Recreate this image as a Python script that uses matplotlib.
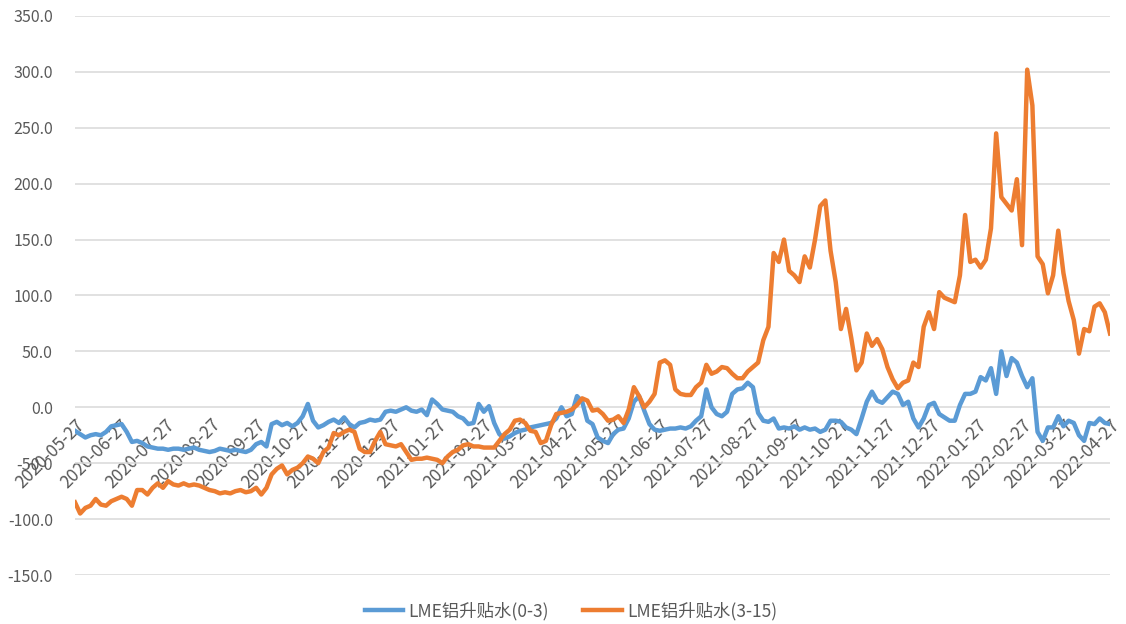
# -*- coding: utf-8 -*-
"""
LME铝升贴水 (0-3) 与 (3-15) 走势图
"""

import numpy as np
import pandas as pd
import matplotlib
matplotlib.use('Agg')
import matplotlib.pyplot as plt
import matplotlib.dates as mdates
from matplotlib.ticker import MultipleLocator, FormatStrFormatter

start_date = '2020-05-27'
end_date = '2022-04-27'

# 升贴水(0-3)，每半周取一个值
spread_0_3 = [
    -21, -24, -27, -25, -24, -25, -22, -17, -16, -15,
    -22, -31, -30, -32, -35, -36, -37, -37, -38, -37,
    -37, -38, -37, -36, -38, -39, -40, -39, -37, -38,
    -39, -38, -39, -40, -38, -33, -31, -35, -15, -13,
    -16, -14, -17, -14, -8, 3, -12, -18, -16, -13,
    -11, -14, -9, -15, -18, -14, -13, -11, -12, -11,
    -4, -3, -4, -2, 0, -3, -4, -2, -7, 7,
    3, -2, -3, -4, -8, -10, -15, -14, 3, -4,
    1, -14, -24, -28, -26, -23, -21, -20, -18, -17,
    -16, -15, -14, -10, 0, -8, -6, 10, 5, -12,
    -15, -27, -30, -32, -24, -20, -19, -10, 5, 10,
    -3, -15, -20, -21, -20, -19, -19, -18, -19, -17,
    -12, -8, 16, 0, -6, -8, -4, 12, 16, 17,
    22, 18, -5, -12, -13, -10, -19, -18, -19, -17,
    -20, -18, -20, -19, -22, -20, -12, -12, -13, -18,
    -20, -24, -10, 5, 14, 6, 4, 9, 14, 12,
    2, 5, -10, -18, -10, 2, 4, -6, -9, -12,
    -12, 2, 12, 12, 14, 27, 24, 35, 12, 50,
    28, 44, 40, 28, 18, 26, -22, -30, -18, -18,
    -8, -17, -12, -14, -25, -30, -14, -15, -10, -14,
    -15,
]

# 升贴水(3-15)
spread_3_15 = [
    -85, -95, -90, -88, -82, -87, -88, -84, -82, -80,
    -82, -88, -74, -74, -78, -72, -68, -72, -66, -69,
    -70, -68, -70, -69, -70, -72, -74, -75, -77, -76,
    -77, -75, -74, -76, -75, -72, -78, -72, -60, -55,
    -52, -60, -56, -54, -50, -44, -46, -50, -40, -36,
    -23, -25, -22, -20, -22, -37, -40, -40, -30, -22,
    -33, -34, -35, -33, -40, -47, -46, -46, -45, -46,
    -47, -50, -44, -40, -38, -34, -33, -35, -35, -36,
    -36, -36, -30, -24, -20, -12, -11, -14, -21, -22,
    -32, -30, -16, -6, -5, -4, -2, 2, 8, 6,
    -3, -2, -6, -12, -11, -8, -14, -2, 18, 10,
    0, 5, 12, 40, 42, 38, 16, 12, 11, 11,
    18, 22, 38, 30, 32, 36, 35, 30, 26, 26,
    32, 36, 40, 60, 72, 138, 130, 150, 122, 118,
    112, 135, 125, 150, 180, 185, 140, 112, 70, 88,
    62, 33, 40, 66, 55, 61, 52, 36, 25, 17,
    22, 24, 40, 36, 72, 85, 70, 103, 98, 96,
    94, 118, 172, 130, 132, 125, 132, 160, 245, 188,
    182, 176, 204, 145, 302, 270, 135, 128, 102, 118,
    158, 120, 95, 78, 48, 70, 68, 90, 93, 85,
    66,
]


def main():
    plt.rcParams['font.family'] = ['Noto Sans CJK SC', 'DejaVu Sans']
    dates = pd.date_range(start_date, end_date, periods=len(spread_0_3))

    fig = plt.figure(figsize=(11.26, 6.24), dpi=100)
    ax = fig.add_axes([0.0666, 0.0785, 0.9192, 0.8959])

    ax.plot(dates, spread_0_3, color='#5B9BD5', linewidth=3.2,
            solid_joinstyle='round', label='LME铝升贴水(0-3)')
    ax.plot(dates, spread_3_15, color='#ED7D31', linewidth=3.2,
            solid_joinstyle='round', label='LME铝升贴水(3-15)')

    ax.set_xlim(pd.Timestamp(start_date), pd.Timestamp(end_date))
    ax.set_ylim(-150, 350)
    ax.yaxis.set_major_locator(MultipleLocator(50))
    ax.yaxis.set_major_formatter(FormatStrFormatter('%.1f'))
    ax.grid(axis='y', color='#D9D9D9', linewidth=1.1)
    ax.set_axisbelow(True)

    # 横轴放在0处，日期斜放
    ax.xaxis.set_major_locator(mdates.MonthLocator(bymonthday=27))
    ax.xaxis.set_major_formatter(mdates.DateFormatter('%Y-%m-%d'))
    ax.spines['bottom'].set_position(('data', 0))
    for side in ['top', 'right', 'left', 'bottom']:
        ax.spines[side].set_visible(False)
    ax.tick_params(axis='both', length=0, colors='#595959')
    ax.tick_params(axis='x', labelsize=12.5, pad=6)
    ax.tick_params(axis='y', labelsize=11.5, pad=16)
    for lab in ax.get_xticklabels():
        lab.set_rotation(45)
        lab.set_ha('right')
        lab.set_va('top')
        lab.set_rotation_mode('anchor')

    fig.legend(loc='center', bbox_to_anchor=(0.507, 0.021), ncol=2,
               frameon=False, fontsize=12.5, handlelength=2.2,
               handletextpad=0.3, columnspacing=2.0, labelcolor='#595959')

    fig.savefig('out.png', dpi=100)


if __name__ == '__main__':
    plt.close('all')
    main()
